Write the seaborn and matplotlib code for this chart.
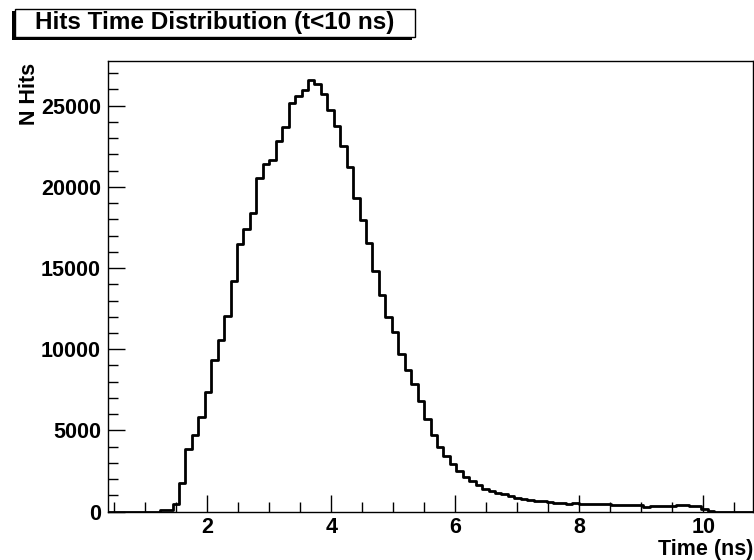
import numpy as np
import pandas as pd
import matplotlib.pyplot as plt
import matplotlib.patches as patches
from matplotlib.ticker import MultipleLocator
import seaborn as sns

# histogram: 100 bins from 0.4 to 10.8 ns
t_min, t_max, n_bins = 0.4, 10.8, 100
hits = [0, 0, 0, 0, 0, 0, 0, 0, 100, 120,
        470, 1790, 3880, 4740, 5850, 7370, 9320, 10570, 12030, 14210,
        16490, 17430, 18400, 20530, 21410, 21660, 22830, 23710, 25130, 25560,
        25970, 26550, 26340, 25720, 24740, 23750, 22520, 21250, 19300, 17960,
        16570, 14840, 13350, 11970, 11090, 9690, 8730, 7860, 6840, 5710,
        4720, 4000, 3430, 2920, 2510, 2160, 1890, 1640, 1380, 1250,
        1130, 1090, 990, 860, 760, 720, 680, 640, 570, 550,
        540, 470, 540, 470, 470, 470, 470, 470, 400, 400,
        400, 400, 400, 300, 350, 350, 330, 330, 410, 410,
        330, 330, 180, 60, 0, 0, 0, 0, 0, 0]
title = "Hits Time Distribution (t<10 ns)"
x_title = "Time (ns)"
y_title = "N Hits"

sns.set_style("ticks", {"text.color": "black", "axes.labelcolor": "black",
                        "xtick.color": "black", "ytick.color": "black",
                        "axes.edgecolor": "black"})
plt.rcParams['font.family'] = ['Liberation Sans', 'DejaVu Sans']
plt.rcParams['font.weight'] = 'bold'

width = (t_max - t_min) / n_bins
df = pd.DataFrame({"t": t_min + width * (np.arange(n_bins) + 0.5), "n": hits})

W, H = 754, 560
fig = plt.figure(figsize=(W / 100, H / 100), dpi=100)
ax = fig.add_axes([108 / W, 1 - 511.7 / H, (753 - 108) / W, (511.7 - 61) / H])

sns.histplot(data=df, x="t", weights="n", bins=n_bins, binrange=(t_min, t_max),
             element="step", fill=False, color="black", linewidth=2, ax=ax)

ax.set_xlim(t_min, t_max)
ax.set_ylim(0, max(hits) * 1.045)
ax.xaxis.set_major_locator(MultipleLocator(2))
ax.xaxis.set_minor_locator(MultipleLocator(0.5))
ax.yaxis.set_major_locator(MultipleLocator(5000))
ax.yaxis.set_minor_locator(MultipleLocator(1000))
ax.tick_params(which='major', direction='in', length=12, width=1, labelsize=15.5, pad=4,
               colors='black')
ax.tick_params(which='minor', direction='in', length=7, width=1, colors='black')
ax.tick_params(axis='y', which='major', pad=5)
for lab in ax.get_xticklabels() + ax.get_yticklabels():
    lab.set_fontweight('bold')
for s in ax.spines.values():
    s.set_visible(True)
    s.set_linewidth(1)
    s.set_color('black')

ax.set_xlabel(x_title, loc='right', fontsize=15.5, fontweight='bold', color='black')
ax.xaxis.set_label_coords(1.0, -0.06)
ax.set_ylabel(y_title, loc='top', fontsize=15.5, fontweight='bold', color='black')
ax.yaxis.set_label_coords(-0.106, 0.995)

# title box with shadow
x0, x1, y0, y1 = 14.7, 415, 9, 37.3
fig.patches.append(patches.Rectangle(((x0 - 3) / W, 1 - (y1 + 2.5) / H), (x1 - x0) / W, (y1 - y0) / H,
                                     transform=fig.transFigure, facecolor='black', edgecolor='none'))
fig.patches.append(patches.Rectangle((x0 / W, 1 - y1 / H), (x1 - x0) / W, (y1 - y0) / H,
                                     transform=fig.transFigure, facecolor='white', edgecolor='black', linewidth=1))
fig.text((x0 + x1) / 2 / W, 1 - 22.5 / H, title, ha='center', va='center',
         fontsize=17.5, fontweight='bold', color='black')

fig.savefig("out.png", dpi=100)
